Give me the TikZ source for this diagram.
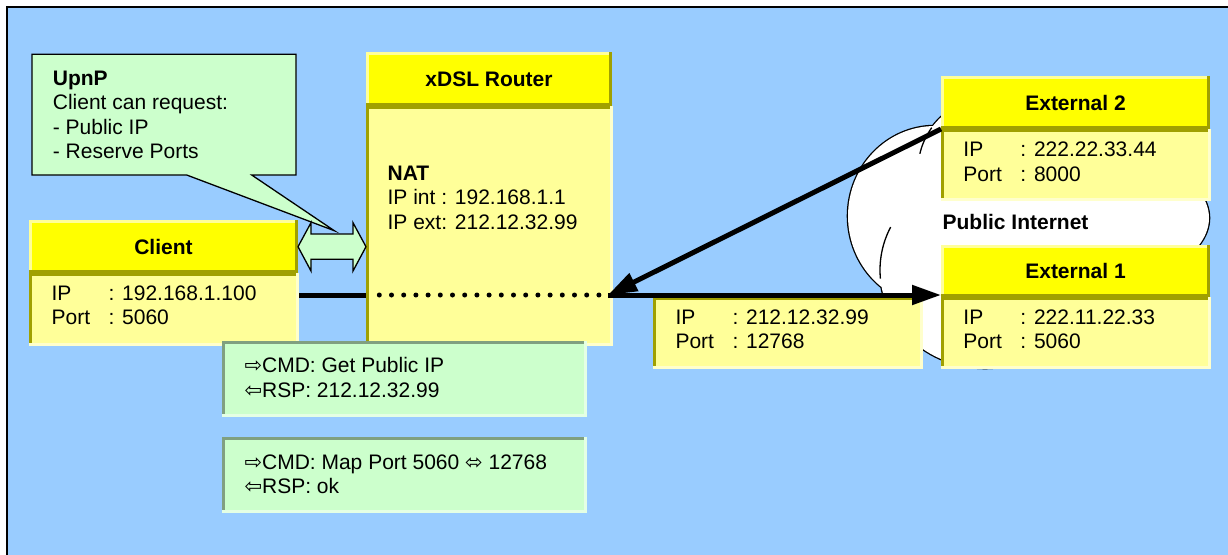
\documentclass[tikz,border=0pt]{standalone}
\usepackage{fontspec}
\setmainfont{Liberation Sans}
\newfontfamily\symfont{DejaVu Sans}
\usetikzlibrary{arrows.meta}

\definecolor{skyblue}{HTML}{99CCFF}
\definecolor{hdr}{HTML}{FFFF00}
\definecolor{hdrhi}{HTML}{FFFF99}
\definecolor{olv}{HTML}{A0A000}
\definecolor{bodyy}{HTML}{FFFF99}
\definecolor{bodyhi}{HTML}{FFFFCC}
\definecolor{grn}{HTML}{CCFFCC}
\definecolor{grndk}{HTML}{80A080}
\definecolor{grnhi}{HTML}{E4FFE4}

\tikzset{
  card/.style={rectangle, anchor=north west, inner sep=0pt, outer sep=0pt},
  % filled box with a 3pt bevel: #2 along top/left, #3 along bottom/right
  bevel/.style n args={3}{card, fill=#1, path picture={
      \fill[#2] (path picture bounding box.north west) rectangle ([yshift=-3pt]path picture bounding box.north east);
      \fill[#2] (path picture bounding box.north west) rectangle ([xshift=3pt]path picture bounding box.south west);
      \fill[#3] (path picture bounding box.south west) rectangle ([yshift=3pt]path picture bounding box.south east);
      \fill[#3] (path picture bounding box.south east) rectangle ([xshift=-3pt]path picture bounding box.north east);
  }},
  headbox/.style={bevel={hdr}{hdrhi}{olv}, font=\fontsize{21pt}{24pt}\selectfont\bfseries},
  bodybox/.style={bevel={bodyy}{olv}{bodyhi}},
  cmdbox/.style={bevel={grn}{grndk}{grnhi}},
  txt/.style={font=\fontsize{21pt}{24.5pt}\selectfont, align=left, inner sep=0pt, anchor=north west},
  wire/.style={line width=5pt},
  dotwire/.style={line width=5pt, line cap=round, dash pattern=on 0pt off 12.2pt},
  tip/.style={-{Triangle[length=29pt,width=19pt]}},
  outline/.style={line width=1.3pt, draw=black},
}
\newcommand\lbl[1]{\makebox[57pt][l]{#1}}

\begin{document}
\begin{tikzpicture}[x=1pt,y=-1pt]
\useasboundingbox (0,0) rectangle (1228,554);
\clip (0,0) rectangle (1228,554);
\fill[white] (0,0) rectangle (1228,554);
% slide frame
\draw[line width=2pt, fill=skyblue] (7,7) rectangle (1240,570);

% cloud: thick strokes then white fill leave only the outer contour
\draw[line width=2.6pt] (935,216) ellipse [x radius=87, y radius=90]
  (990,170) circle [radius=72]
  (1079,218) ellipse [x radius=130, y radius=70]
  (985,270) ellipse [x radius=105, y radius=98];
\fill[white] (935,216) ellipse [x radius=87, y radius=90]
  (990,170) circle [radius=72]
  (1079,218) ellipse [x radius=130, y radius=70]
  (985,270) ellipse [x radius=105, y radius=98];
\draw[line width=1.3pt] plot[domain=175:206, smooth, samples=20] ({985+105*cos(\x)},{270+98*sin(\x)});
\draw[line width=1.3pt] plot[domain=193:216, smooth, samples=20] ({990+72*cos(\x)},{170+72*sin(\x)});
\node[anchor=west, inner sep=0pt, font=\fontsize{21pt}{24pt}\selectfont\bfseries] (inet) at (942.4,221.7) {Public Internet};

% client
\node[headbox, minimum width=269pt, minimum height=53pt] (clienthead) at (29,220) {Client};
\node[bodybox, minimum width=270pt, minimum height=73pt] (clientbody) at (29,273) {};
\node[txt] (clienttxt) at (51.4,285.2) {\lbl{IP}: 192.168.1.100\\\lbl{Port}: 5060};

% router
\node[headbox, minimum width=246pt, minimum height=54pt] (routerhead) at (366,52) {xDSL Router};
\node[bodybox, minimum width=247pt, minimum height=240pt] (routerbody) at (366,106) {};
\node[txt] (nattxt) at (387.4,165.7) {\textbf{NAT}\\IP int : 192.168.1.1\\IP ext: 212.12.32.99};

% external hosts
\node[headbox, minimum width=269pt, minimum height=53pt] (ext2head) at (941,76) {External 2};
\node[bodybox, minimum width=270pt, minimum height=72pt] (ext2body) at (941,129) {};
\node[txt] (ext2txt) at (963.2,141.7) {\lbl{IP}: 222.22.33.44\\\lbl{Port}: 8000};

\node[headbox, minimum width=269pt, minimum height=52pt] (ext1head) at (941,245) {External 1};
\node[bodybox, minimum width=270pt, minimum height=72pt] (ext1body) at (941,297) {};
\node[txt] (ext1txt) at (963.2,309.2) {\lbl{IP}: 222.11.22.33\\\lbl{Port}: 5060};

% public mapping
\node[bodybox, minimum width=270pt, minimum height=72pt] (mapbox) at (653,297) {};
\node[txt] (maptxt) at (675.3,309.2) {\lbl{IP}: 212.12.32.99\\\lbl{Port}: 12768};

% UPnP commands
\node[cmdbox, minimum width=365pt, minimum height=76pt] (cmd1) at (222,341) {};
\node[txt] (cmd1txt) at (244.3,357.5) {{\symfont ⇨}CMD: Get Public IP\\{\symfont ⇦}RSP: 212.12.32.99};
\node[cmdbox, minimum width=365pt, minimum height=76pt] (cmd2) at (222,437) {};
\node[txt] (cmd2txt) at (244.3,454.2) {{\symfont ⇨}CMD: Map Port 5060 {\symfont ⬄} 12768\\{\symfont ⇦}RSP: ok};

% UPnP callout
\node[card, minimum width=264pt, minimum height=120.7pt] (upnp) at (32,54.3) {};
\draw[outline, fill=grn] (upnp.south west) -- (upnp.north west) -- (upnp.north east)
  -- (upnp.south east) -- (251.7,175) -- (334.3,230.7) -- (186.7,175) -- cycle;
\node[txt] (upnptxt) at (52.7,70.7) {\textbf{UpnP}\\Client can request:\\- Public IP\\- Reserve Ports};

% two-way UPnP exchange between client and router
\draw[outline, fill=grn] (clienthead.east |- 0,246.7) -- (311,222.7) -- (311,234) -- (353,234)
  -- (353,222.7) -- (routerhead.west |- 0,246.7) -- (353,271) -- (353,259.3) -- (311,259.3)
  -- (311,271) -- cycle;

% traffic path through NAT
\coordinate (nat) at (608,295);
\draw[wire] (clientbody.east |- nat) -- (routerbody.west |- nat);
\draw[dotwire] (379.3,295) -- ([xshift=-6pt]nat);
\draw[wire, tip] (nat) -- (nat -| ext1head.west);
\draw[wire, tip] (ext2head.south west) -- (nat);
\end{tikzpicture}
\end{document}
